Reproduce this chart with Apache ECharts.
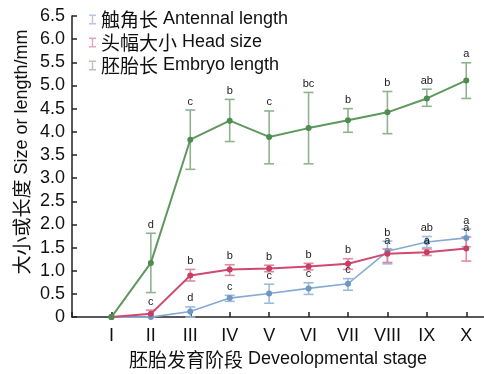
<!DOCTYPE html>
<html>
<head>
<meta charset="utf-8">
<script src="https://cdn.jsdelivr.net/npm/echarts@6/dist/echarts.min.js"></script>
<style>html,body{margin:0;padding:0;background:#fff}#c{width:484px;height:374px}</style>
</head>
<body>
<div id="c"></div>
<script>
const stages = ['I','II','III','IV','V','VI','VII','VIII','IX','X'];
const yTicks = [0,0.5,1,1.5,2,2.5,3,3.5,4,4.5,5,5.5,6,6.5];

const antennal   = [0, 0, 0.12, 0.41, 0.51, 0.62, 0.72, 1.42, 1.62, 1.71];
const antennalLo = [null, null, 0.00, 0.34, 0.30, 0.49, 0.58, 1.15, 1.50, 1.52];
const antennalHi = [null, null, 0.22, 0.47, 0.71, 0.74, 0.83, 1.64, 1.74, 1.90];
const antennalSig = ['', '', 'd', 'c', 'c', 'c', 'c', 'b', 'ab', 'a'];

const head   = [0, 0.07, 0.90, 1.03, 1.05, 1.09, 1.15, 1.37, 1.40, 1.48];
const headLo = [null, 0.00, 0.78, 0.90, 0.98, 1.02, 1.03, 1.18, 1.33, 1.21];
const headHi = [null, 0.15, 1.03, 1.13, 1.12, 1.16, 1.26, 1.47, 1.47, 1.73];
const headSig = ['', 'c', 'b', 'b', 'b', 'b', 'b', 'a', 'a', 'a'];

const embryo   = [0, 1.17, 3.83, 4.24, 3.89, 4.08, 4.25, 4.42, 4.72, 5.11];
const embryoLo = [null, 0.53, 3.19, 3.79, 3.31, 3.31, 3.99, 3.96, 4.55, 4.72];
const embryoHi = [null, 1.81, 4.47, 4.70, 4.45, 4.85, 4.50, 4.87, 4.92, 5.49];
const embryoSig = ['', 'd', 'c', 'b', 'c', 'bc', 'b', 'b', 'ab', 'a'];

const names = ['{cn|触角长}{en| Antennal length}', '{cn|头幅大小}{en| Head size}', '{cn|胚胎长}{en| Embryo length}'];
const lineColors = ['#86a9d2', '#cf4a6f', '#5e985e'];
const markColors = ['#6f97c6', '#c93d64', '#4f8c4f'];
const errColors = ['#9dbbdc', '#df8aa1', '#8fb28f'];
const legendColors = ['#b9c6e0', '#e4a6b6', '#b6c4b6'];

const means = [antennal, head, embryo];
const los = [antennalLo, headLo, embryoLo];
const his = [antennalHi, headHi, embryoHi];
const sigs = [antennalSig, headSig, embryoSig];

const EN = '"Liberation Sans", Arial, sans-serif';
const CN = '"Noto Sans CJK SC", sans-serif';

const series = [];
for (let k = 0; k < 3; k++) {
  const errData = [], sigData = [];
  for (let i = 0; i < stages.length; i++) {
    if (los[k][i] !== null) errData.push([i + 1, los[k][i], his[k][i]]);
    if (sigs[k][i]) sigData.push([i + 1, his[k][i], sigs[k][i]]);
  }
  const ec = errColors[k];
  series.push({
    type: 'custom', name: 'err' + k, z: 2,
    data: errData,
    renderItem: function (params, api) {
      const x = api.value(0);
      const lo = api.coord([x, api.value(1)]);
      const hi = api.coord([x, api.value(2)]);
      const hw = 5;
      const st = { stroke: ec, lineWidth: 1.6 };
      return { type: 'group', children: [
        { type: 'line', shape: { x1: lo[0], y1: lo[1], x2: hi[0], y2: hi[1] }, style: st },
        { type: 'line', shape: { x1: lo[0] - hw, y1: lo[1], x2: lo[0] + hw, y2: lo[1] }, style: st },
        { type: 'line', shape: { x1: hi[0] - hw, y1: hi[1], x2: hi[0] + hw, y2: hi[1] }, style: st }
      ]};
    }
  });
  series.push({
    type: 'line', name: names[k], z: 3,
    data: means[k].map((v, i) => [i + 1, v]),
    symbol: 'circle', symbolSize: 6, showSymbol: true,
    lineStyle: { color: lineColors[k], width: k === 0 ? 1.6 : 2 },
    itemStyle: { color: markColors[k] },
    color: legendColors[k]
  });
  series.push({
    type: 'custom', name: 'sig' + k, z: 4,
    data: sigData,
    renderItem: function (params, api) {
      const p = api.coord([api.value(0), api.value(1)]);
      return { type: 'text', x: p[0], y: p[1] - 3,
        style: { text: sigData[params.dataIndex][2], fill: '#222', font: '11px ' + EN, align: 'center', verticalAlign: 'bottom' } };
    }
  });
}

const chart = echarts.init(document.getElementById('c'), null, { renderer: 'canvas' });
chart.setOption({
  animation: false,
  backgroundColor: '#fff',
  grid: { left: 72, right: 0, top: 16, bottom: 54, containLabel: false },
  legend: {
    orient: 'vertical', left: 84, top: 5, itemGap: 4,
    itemWidth: 7, itemHeight: 11,
    icon: 'path://M0,0H7V1.4H4.2V8.6H7V10H0V8.6H2.8V1.4H0Z',
    data: names.map((n, k) => ({ name: n, itemStyle: { color: legendColors[k] } })),
    textStyle: { color: '#111', fontSize: 18, fontFamily: EN,
      rich: { cn: { fontSize: 19, fontFamily: CN, color: '#111' },
              en: { fontSize: 18, fontFamily: EN, color: '#111' } } }
  },
  xAxis: {
    type: 'value', min: 0, max: 10.45, interval: 1,
    name: '{cn|胚胎发育阶段}{en| Deveolopmental stage}', nameLocation: 'middle', nameGap: 31,
    nameTextStyle: { color: '#111', fontSize: 18, fontFamily: EN,
      rich: { cn: { fontSize: 19, fontFamily: CN, color: '#111' },
              en: { fontSize: 18, fontFamily: EN, color: '#111' } } },
    axisLine: { show: true, lineStyle: { color: '#222', width: 1.5 } },
    axisTick: { show: true, inside: true, length: 5, lineStyle: { color: '#222', width: 1.5 } },
    axisLabel: { color: '#111', fontSize: 18, margin: 10, fontFamily: EN,
      showMaxLabel: false,
      formatter: v => (v >= 1 && v <= stages.length) ? stages[v - 1] : '' },
    splitLine: { show: false }
  },
  yAxis: {
    type: 'value', min: yTicks[0], max: yTicks[yTicks.length - 1], interval: 0.5,
    axisLine: { show: true, lineStyle: { color: '#222', width: 1.5 } },
    axisTick: { show: true, inside: true, length: 5, lineStyle: { color: '#222', width: 1.5 } },
    axisLabel: { color: '#111', fontSize: 18, margin: 7, fontFamily: EN,
      formatter: v => v === 0 ? '0' : v.toFixed(1) },
    splitLine: { show: false }
  },
  graphic: [{
    type: 'text', x: 22, y: 152, rotation: Math.PI / 2,
    style: { text: '{cn|大小或长度}{en| Size or length/mm}', align: 'center', verticalAlign: 'middle',
      font: '18px ' + EN, fill: '#111',
      rich: { cn: { fontSize: 19, fontFamily: CN, fill: '#111' },
              en: { fontSize: 18, fontFamily: EN, fill: '#111' } } }
  }],
  series: series
});
</script>
</body>
</html>
